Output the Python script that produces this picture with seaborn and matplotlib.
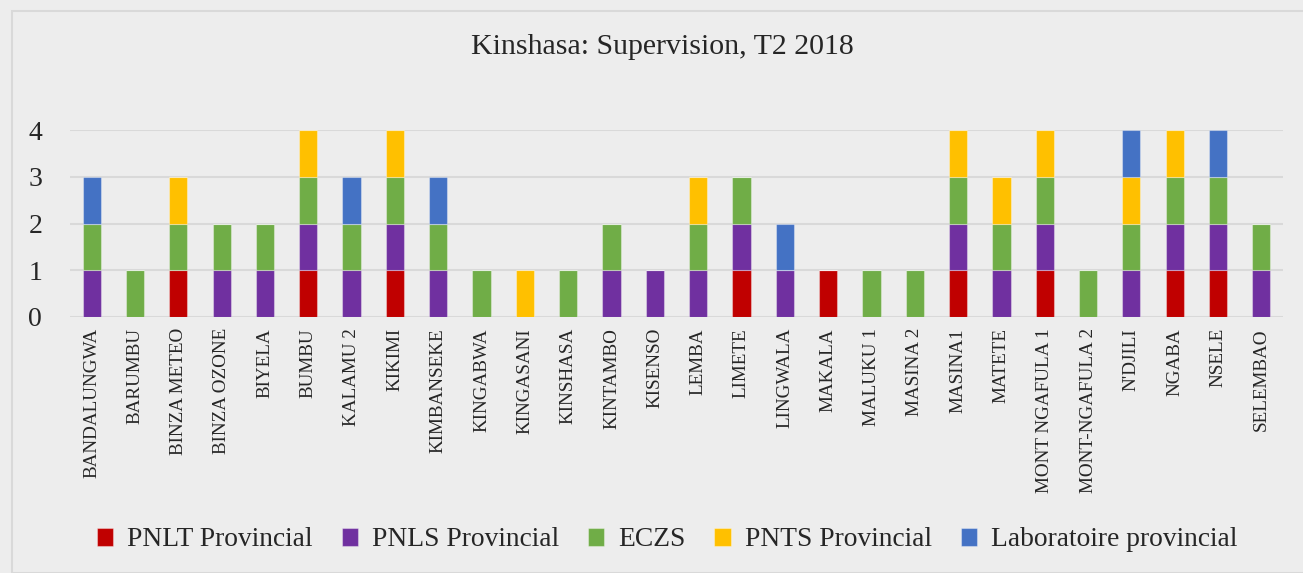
import numpy as np
import pandas as pd
import matplotlib
matplotlib.use("Agg")
import matplotlib.pyplot as plt
from matplotlib.patches import Rectangle
import seaborn as sns

zones = ["BANDALUNGWA", "BARUMBU", "BINZA METEO", "BINZA OZONE", "BIYELA", "BUMBU",
         "KALAMU 2", "KIKIMI", "KIMBANSEKE", "KINGABWA", "KINGASANI", "KINSHASA",
         "KINTAMBO", "KISENSO", "LEMBA", "LIMETE", "LINGWALA", "MAKALA", "MALUKU 1",
         "MASINA 2", "MASINA1", "MATETE", "MONT NGAFULA 1", "MONT-NGAFULA 2",
         "N'DJILI", "NGABA", "NSELE", "SELEMBAO"]

pnlt = [0, 0, 1, 0, 0, 1, 0, 1, 0, 0, 0, 0, 0, 0, 0, 1, 0, 1, 0, 0, 1, 0, 1, 0, 0, 1, 1, 0]
pnls = [1, 0, 0, 1, 1, 1, 1, 1, 1, 0, 0, 0, 1, 1, 1, 1, 1, 0, 0, 0, 1, 1, 1, 0, 1, 1, 1, 1]
eczs = [1, 1, 1, 1, 1, 1, 1, 1, 1, 1, 0, 1, 1, 0, 1, 1, 0, 0, 1, 1, 1, 1, 1, 1, 1, 1, 1, 1]
pnts = [0, 0, 1, 0, 0, 1, 0, 1, 0, 0, 1, 0, 0, 0, 1, 0, 0, 0, 0, 0, 1, 1, 1, 0, 1, 1, 0, 0]
labo = [1, 0, 0, 0, 0, 0, 1, 0, 1, 0, 0, 0, 0, 0, 0, 0, 1, 0, 0, 0, 0, 0, 0, 0, 1, 0, 1, 0]

series_names = ["PNLT Provincial", "PNLS Provincial", "ECZS", "PNTS Provincial",
                "Laboratoire provincial"]
series_vals = [pnlt, pnls, eczs, pnts, labo]
colors = ["#C00000", "#7030A0", "#70AD47", "#FFC000", "#4472C4"]

title = "Kinshasa: Supervision, T2 2018"

sns.set_theme(style="white")
plt.rcParams["font.family"] = ["Liberation Serif", "DejaVu Serif"]

BG = "#EDEDED"
fig = plt.figure(figsize=(13.03, 5.73), dpi=100, facecolor=BG)
ax = fig.add_axes([70 / 1303, 1 - 317 / 573, (1283 - 70) / 1303, (317 - 130) / 573])
ax.set_facecolor(BG)

fig.patches.append(Rectangle((12 / 1303, 0), 1.0, 1 - 11 / 573, transform=fig.transFigure,
                             fill=False, edgecolor="#D9D9D9", linewidth=1.5, zorder=0))

bottom = np.zeros(len(zones))
for name, vals, col in zip(series_names, series_vals, colors):
    df = pd.DataFrame({"zone": zones, "val": vals})
    sns.barplot(data=df, x="zone", y="val", order=zones, bottom=bottom, color=col,
                width=0.42, ax=ax, label=name, saturation=1, errorbar=None,
                edgecolor=(1, 1, 1, 0.35), linewidth=0.8, zorder=3)
    bottom = bottom + np.array(vals)

handles, labels = ax.get_legend_handles_labels()
if ax.get_legend() is not None:
    ax.get_legend().remove()

ax.set_xlim(-0.5, len(zones) - 0.5)
ax.set_ylim(0, 4)
ax.set_yticks([0, 1, 2, 3, 4])
ax.yaxis.grid(True, color="#D9D9D9", linewidth=1.5, zorder=0)
ax.set_axisbelow(True)
for s in ["top", "right", "left", "bottom"]:
    ax.spines[s].set_visible(False)
ax.set_xlabel("")
ax.set_ylabel("")
ax.tick_params(axis="y", length=0, labelsize=20, pad=20)
ax.tick_params(axis="x", length=0, labelsize=13.8, pad=8)
plt.setp(ax.get_xticklabels(), rotation=90)

fig.text(662 / 1303, 1 - 47 / 573, title, ha="center", va="center", fontsize=21.5)

fig.legend(handles, labels, loc="center", bbox_to_anchor=(0.512, 1 - 540 / 573),
           ncol=5, frameon=False, fontsize=19.8, handlelength=0.6, handleheight=0.6,
           handletextpad=0.5, columnspacing=1.05)

fig.savefig("out.png", dpi=100, facecolor=BG)
